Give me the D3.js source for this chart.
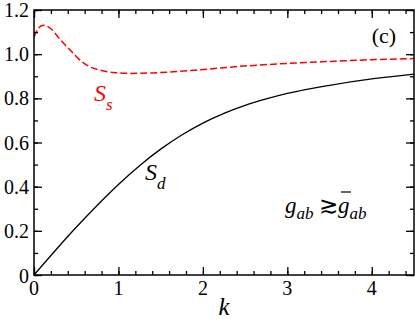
<!DOCTYPE html>
<html>
<head>
<meta charset="utf-8">
<script src="https://cdn.jsdelivr.net/npm/d3@7"></script>
<style>
  html, body { margin: 0; padding: 0; background: #fff; }
  svg { display: block; }
</style>
</head>
<body>
<svg id="chart" width="415" height="319"></svg>
<script>
// ---- data ----
const ssK = [0, 0.05, 0.11, 0.2, 0.31, 0.43, 0.545, 0.66, 0.78, 0.94, 1.14, 1.4, 1.93, 2.48, 2.91, 3.5, 4.0, 4.5];
const ssV = [1.078, 1.116, 1.131, 1.115, 1.066, 1.018, 0.973, 0.943, 0.928, 0.917, 0.913, 0.915, 0.928, 0.946, 0.956, 0.967, 0.975, 0.980];
const sdK = [0, 0.25, 0.5, 0.75, 1.0, 1.25, 1.5, 1.75, 2.0, 2.25, 2.5, 2.75, 3.0, 3.5, 4.0, 4.5];
const sdV = [0, 0.11, 0.216, 0.316, 0.41, 0.495, 0.57, 0.634, 0.688, 0.732, 0.768, 0.797, 0.822, 0.859, 0.888, 0.91];
const xTicks = [0, 1, 2, 3, 4];
const yTicks = [0, 0.2, 0.4, 0.6, 0.8, 1.0, 1.2];

const FONT = "'Liberation Serif'";
const svg = d3.select("#chart");
const L = 34, R = 414, T = 10, B = 275;
const x = d3.scaleLinear().domain([0, 4.5]).range([L, R]);
const y = d3.scaleLinear().domain([0, 1.2]).range([B, T]);

const xMinor = d3.range(0, 4.5001, 0.2).map(v => +v.toFixed(2));
const yMinor = d3.range(0, 1.2001, 0.1).map(v => +v.toFixed(2));

const fmtY = v => v === 0 ? "0" : d3.format(".1f")(v);

// curves
const line = d3.line().x(d => x(d[0])).y(d => y(d[1])).curve(d3.curveMonotoneX);
svg.append("path").datum(sdK.map((k, i) => [k, sdV[i]]))
  .attr("d", line).attr("fill", "none").attr("stroke", "#000").attr("stroke-width", 1.3);
svg.append("path").datum(ssK.map((k, i) => [k, ssV[i]]))
  .attr("d", line).attr("fill", "none").attr("stroke", "#ff0000").attr("stroke-width", 1.5)
  .attr("stroke-dasharray", "7,3");

// axes with inward ticks on all four sides
function ticks(gen, major, minor, transform) {
  const g1 = svg.append("g").attr("transform", transform)
    .call(gen.tickValues(minor).tickSize(4).tickFormat(""));
  g1.select(".domain").remove();
  g1.selectAll("line").attr("stroke", "#000").attr("stroke-width", 1.3);
  const g2 = svg.append("g").attr("transform", transform)
    .call(gen.tickValues(major).tickSize(8).tickFormat(""));
  g2.select(".domain").remove();
  g2.selectAll("line").attr("stroke", "#000").attr("stroke-width", 1.3);
}
ticks(d3.axisTop(x), xTicks, xMinor, `translate(0,${B})`);
ticks(d3.axisBottom(x), xTicks, xMinor, `translate(0,${T})`);
ticks(d3.axisRight(y), yTicks, yMinor, `translate(${L},0)`);
ticks(d3.axisLeft(y), yTicks, yMinor, `translate(${R},0)`);

function txt(sel) { return sel.style("font-family", FONT); }

// tick labels
svg.append("g").selectAll("text").data(xTicks).join("text")
  .style("font-family", FONT)
  .attr("x", d => x(d)).attr("y", B + 20).attr("text-anchor", "middle")
  .style("font-size", "20px").text(d3.format("d"));
svg.append("g").selectAll("text").data(yTicks).join("text")
  .style("font-family", FONT)
  .attr("x", L - 5).attr("y", d => y(d) + 7 + (d === 0 ? 1 : 0)).attr("text-anchor", "end")
  .style("font-size", "20px").text(fmtY);

// frame
svg.append("rect").attr("x", L).attr("y", T).attr("width", R - L).attr("height", B - T)
  .attr("fill", "none").attr("stroke", "#000").attr("stroke-width", 1.5);

// axis title
txt(svg.append("text")).attr("x", 224).attr("y", 315).attr("text-anchor", "middle")
  .style("font-size", "25px").style("font-style", "italic").text("k");

// panel label
txt(svg.append("text")).attr("x", 384).attr("y", 43).attr("text-anchor", "middle")
  .style("font-size", "22px").text("(c)");

// series labels
const ss = txt(svg.append("text")).attr("x", 94).attr("y", 101).attr("fill", "#ff0000")
  .style("font-size", "24px").style("font-style", "italic");
ss.append("tspan").text("S");
ss.append("tspan").style("font-size", "17px").attr("dy", 9).text("s");

const sd = txt(svg.append("text")).attr("x", 145).attr("y", 180).attr("fill", "#000")
  .style("font-size", "24px").style("font-style", "italic");
sd.append("tspan").text("S");
sd.append("tspan").style("font-size", "17px").attr("dy", 9).text("d");

// g_ab ≳ ḡ_ab
const gt = txt(svg.append("text")).attr("x", 285).attr("y", 213).style("font-size", "23px").style("font-style", "italic");
gt.append("tspan").text("g");
gt.append("tspan").style("font-size", "17px").attr("dy", 6).text("ab");
svg.append("text").attr("x", 319).attr("y", 213).style("font-size", "23px")
  .style("font-family", "'DejaVu Serif'").text("\u2273");
const g2 = txt(svg.append("text")).attr("x", 338).attr("y", 213).style("font-size", "23px").style("font-style", "italic");
g2.append("tspan").text("g");
g2.append("tspan").style("font-size", "17px").attr("dy", 6).text("ab");
svg.append("line").attr("x1", 341).attr("x2", 351).attr("y1", 192).attr("y2", 192)
  .attr("stroke", "#000").attr("stroke-width", 1.2);
</script>
</body>
</html>
